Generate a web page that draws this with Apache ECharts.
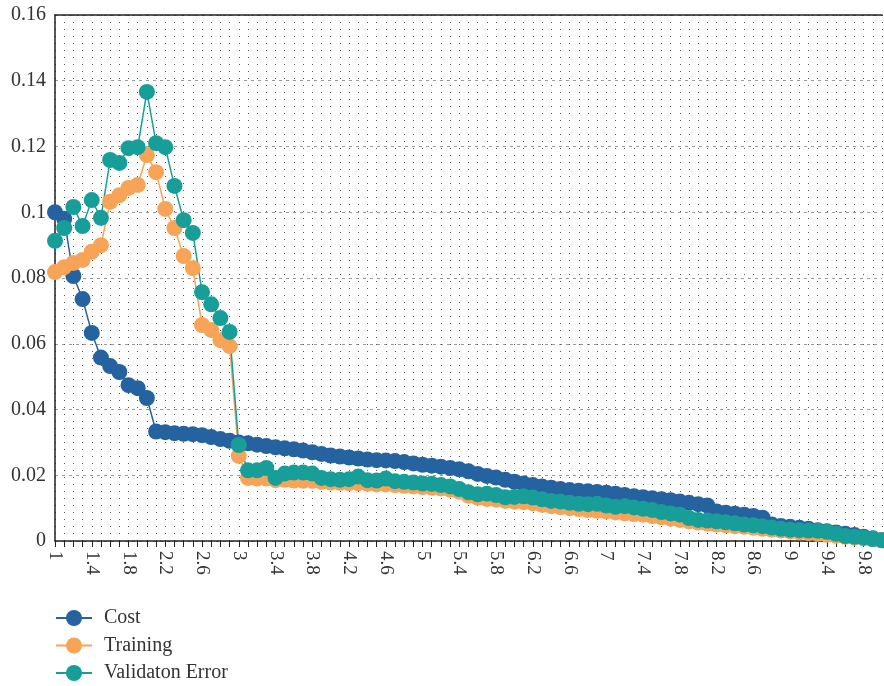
<!DOCTYPE html>
<html>
<head>
<meta charset="utf-8">
<title>Cost, Training and Validation Error</title>
<script src="https://cdn.jsdelivr.net/npm/echarts@6/dist/echarts.min.js"></script>
<style>
  html, body { margin: 0; padding: 0; background: #ffffff; }
  #chart { width: 884px; height: 686px; }
</style>
</head>
<body>
<div id="chart"></div>
<script>
// Epoch positions along the horizontal axis
const categories = [
  '1', '1.1', '1.2', '1.3', '1.4', '1.5', '1.6', '1.7', '1.8', '1.9',
  '2', '2.1', '2.2', '2.3', '2.4', '2.5', '2.6', '2.7', '2.8', '2.9',
  '3', '3.1', '3.2', '3.3', '3.4', '3.5', '3.6', '3.7', '3.8', '3.9',
  '4', '4.1', '4.2', '4.3', '4.4', '4.5', '4.6', '4.7', '4.8', '4.9',
  '5', '5.1', '5.2', '5.3', '5.4', '5.5', '5.6', '5.7', '5.8', '5.9',
  '6', '6.1', '6.2', '6.3', '6.4', '6.5', '6.6', '6.7', '6.8', '6.9',
  '7', '7.1', '7.2', '7.3', '7.4', '7.5', '7.6', '7.7', '7.8', '7.9',
  '8', '8.1', '8.2', '8.3', '8.4', '8.5', '8.6', '8.7', '8.8', '8.9',
  '9', '9.1', '9.2', '9.3', '9.4', '9.5', '9.6', '9.7', '9.8', '9.9',
  '10'
];

const costValues = [
  0.1000, 0.0980, 0.0806, 0.0736, 0.0633, 0.0558, 0.0532, 0.0514, 0.0474, 0.0465,
  0.0435, 0.0333, 0.0331, 0.0328, 0.0326, 0.0325, 0.0322, 0.0316, 0.0310, 0.0305,
  0.0300, 0.0297, 0.0293, 0.0289, 0.0285, 0.0282, 0.0279, 0.0275, 0.0270, 0.0265,
  0.0260, 0.0257, 0.0254, 0.0251, 0.0248, 0.0246, 0.0245, 0.0243, 0.0240, 0.0236,
  0.0232, 0.0229, 0.0226, 0.0222, 0.0218, 0.0212, 0.0204, 0.0198, 0.0193, 0.0186,
  0.0180, 0.0175, 0.0170, 0.0166, 0.0162, 0.0158, 0.0155, 0.0153, 0.0151, 0.0149,
  0.0147, 0.0144, 0.0140, 0.0136, 0.0133, 0.0130, 0.0127, 0.0124, 0.0120, 0.0116,
  0.0112, 0.0108, 0.0090, 0.0086, 0.0083, 0.0080, 0.0076, 0.0071, 0.0050, 0.0046,
  0.0043, 0.0040, 0.0037, 0.0033, 0.0030, 0.0026, 0.0022, 0.0018, 0.0013, 0.0008,
  0.0003
];

const trainingValues = [
  0.0818, 0.0833, 0.0846, 0.0855, 0.0880, 0.0900, 0.1032, 0.1052, 0.1074, 0.1083,
  0.1174, 0.1122, 0.1010, 0.0952, 0.0867, 0.0830, 0.0657, 0.0642, 0.0611, 0.0593,
  0.0259, 0.0192, 0.0190, 0.0190, 0.0185, 0.0186, 0.0184, 0.0183, 0.0183, 0.0180,
  0.0178, 0.0177, 0.0176, 0.0176, 0.0174, 0.0172, 0.0172, 0.0170, 0.0168, 0.0166,
  0.0164, 0.0162, 0.0160, 0.0156, 0.0150, 0.0138, 0.0132, 0.0128, 0.0126, 0.0122,
  0.0120, 0.0118, 0.0115, 0.0110, 0.0106, 0.0103, 0.0100, 0.0097, 0.0094, 0.0092,
  0.0090, 0.0087, 0.0084, 0.0082, 0.0080, 0.0076, 0.0072, 0.0068, 0.0064, 0.0060,
  0.0056, 0.0053, 0.0050, 0.0048, 0.0045, 0.0043, 0.0040, 0.0037, 0.0035, 0.0032,
  0.0029, 0.0026, 0.0024, 0.0022, 0.0019, 0.0016, 0.0013, 0.0010, 0.0008, 0.0005,
  0.0002
];

const validationValues = [
  0.0913, 0.0952, 0.1016, 0.0958, 0.1037, 0.0983, 0.1159, 0.1150, 0.1195, 0.1198,
  0.1366, 0.1210, 0.1198, 0.1080, 0.0976, 0.0937, 0.0757, 0.0720, 0.0678, 0.0636,
  0.0292, 0.0215, 0.0215, 0.0222, 0.0192, 0.0205, 0.0208, 0.0208, 0.0205, 0.0192,
  0.0188, 0.0186, 0.0188, 0.0196, 0.0185, 0.0184, 0.0190, 0.0182, 0.0180, 0.0178,
  0.0175, 0.0174, 0.0170, 0.0166, 0.0158, 0.0148, 0.0142, 0.0144, 0.0140, 0.0133,
  0.0134, 0.0136, 0.0132, 0.0127, 0.0122, 0.0120, 0.0116, 0.0113, 0.0112, 0.0113,
  0.0108, 0.0104, 0.0106, 0.0102, 0.0098, 0.0094, 0.0088, 0.0084, 0.0080, 0.0070,
  0.0064, 0.0062, 0.0060, 0.0057, 0.0054, 0.0050, 0.0048, 0.0045, 0.0041, 0.0037,
  0.0034, 0.0033, 0.0032, 0.0031, 0.0028, 0.0022, 0.0015, 0.0013, 0.0010, 0.0006,
  0.0002
];

const seriesNames = ['Cost', 'Training', 'Validaton Error'];
const seriesColors = ['#2463a0', '#f8a458', '#189e99'];

const FONT = '"Liberation Serif", "DejaVu Serif", serif';

function lineSeries(name, values, color) {
  return {
    name: name,
    type: 'line',
    data: values,
    symbol: 'circle',
    symbolSize: 16,
    showSymbol: true,
    showAllSymbol: true,
    lineStyle: { color: color, width: 1.5 },
    itemStyle: { color: color },
    emphasis: { disabled: true },
    animation: false
  };
}

const chart = echarts.init(document.getElementById('chart'), null, { renderer: 'canvas' });

chart.setOption({
  backgroundColor: '#ffffff',
  animation: false,
  grid: { left: 55, right: 2, top: 15, bottom: 145, containLabel: false },
  legend: {
    orient: 'vertical',
    left: 55,
    top: 608,
    width: 300,
    height: 120,
    padding: 0,
    itemWidth: 36,
    itemHeight: 20,
    itemGap: 7.5,
    data: seriesNames,
    textStyle: { fontFamily: FONT, fontSize: 20, lineHeight: 18, color: '#333333', padding: [0, 0, 0, 7] }
  },
  xAxis: [
    {
      type: 'category',
      data: categories,
      boundaryGap: false,
      axisLine: { show: true, lineStyle: { color: '#222222', width: 1.5 } },
      axisTick: { show: true, interval: 0, length: 6, inside: false, lineStyle: { color: '#222222', width: 1 } },
      axisLabel: {
        interval: 3,
        rotate: -90,
        margin: 10,
        fontFamily: FONT,
        fontSize: 19,
        color: '#333333'
      },
      splitLine: {
        show: true,
        interval: 0,
        lineStyle: { color: '#555555', width: 1, type: [1, 6] }
      }
    },
    {
      type: 'category',
      data: categories,
      position: 'top',
      boundaryGap: false,
      axisLine: { show: true, lineStyle: { color: '#222222', width: 1.5 } },
      axisTick: { show: false },
      axisLabel: { show: false },
      splitLine: { show: false }
    }
  ],
  yAxis: {
    type: 'value',
    min: 0,
    max: 0.16,
    interval: 0.02,
    axisLine: { show: true, lineStyle: { color: '#222222', width: 1.5 } },
    axisTick: { show: false },
    axisLabel: { fontFamily: FONT, fontSize: 20, color: '#333333', margin: 9 },
    splitLine: { show: true, lineStyle: { color: '#9a9a9a', width: 1, type: [3, 4] } }
  },
  series: [
    lineSeries(seriesNames[0], costValues, seriesColors[0]),
    lineSeries(seriesNames[1], trainingValues, seriesColors[1]),
    lineSeries(seriesNames[2], validationValues, seriesColors[2])
  ]
});
</script>
</body>
</html>
